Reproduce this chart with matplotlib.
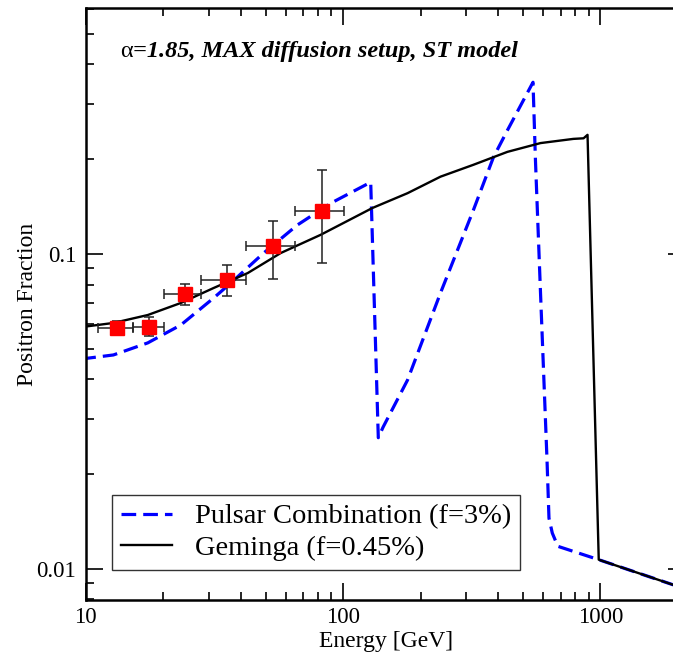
import matplotlib
matplotlib.use("Agg")
import matplotlib.pyplot as plt
from matplotlib.ticker import LogLocator, NullFormatter, FixedLocator, FixedFormatter

plt.rcParams['font.family'] = ['Liberation Serif', 'DejaVu Serif']

# Pulsar combination (blue dashed)
pulsar_E = [9.6, 12.8, 17.4, 23.4, 31.4, 36.6, 49.1, 66.4, 89.6, 128,
            137, 143, 178, 239, 321, 384, 435, 547,
            559, 585, 620, 631, 650, 683, 985, 1920]
pulsar_f = [0.0464, 0.0478, 0.0522, 0.0595, 0.0725, 0.0809, 0.1007, 0.1236, 0.145, 0.169,
            0.0261, 0.0282, 0.0398, 0.0752, 0.138, 0.203, 0.247, 0.351,
            0.199, 0.0752, 0.0222, 0.0145, 0.013, 0.0118, 0.0107, 0.0089]

# Geminga (black solid)
gem_E = [9.6, 12.8, 17.4, 23.4, 31.4, 42.6, 57.2, 81.7, 130, 178, 239, 321, 435,
         585, 785, 860, 891, 985, 1920]
gem_f = [0.0586, 0.0604, 0.064, 0.0699, 0.078, 0.087, 0.1007, 0.115, 0.140, 0.156,
         0.176, 0.192, 0.211, 0.225, 0.232, 0.233, 0.239, 0.0107, 0.0089]

# data points
data_E = [13.2, 17.6, 24.2, 35.3, 53.5, 82.6]
data_lo = [11.2, 15.2, 20.1, 28.1, 42.1, 64.9]
data_hi = [15.2, 20.1, 28.1, 42.1, 64.9, 100.7]
data_f = [0.0583, 0.0588, 0.0746, 0.0827, 0.106, 0.137]
data_flo = [0.0556, 0.0549, 0.0689, 0.0737, 0.0831, 0.0938]
data_fhi = [0.0614, 0.0633, 0.0803, 0.0923, 0.1275, 0.185]

fig = plt.figure(figsize=(6.73, 6.57), dpi=100)
ax = fig.add_axes([0.1275, 0.0868, 0.891, 0.901])

ax.plot(pulsar_E, pulsar_f, color='#0000ff', ls=(0, (4.6, 2.2)), lw=2.3,
        label='Pulsar Combination (f=3%)')
ax.plot(gem_E, gem_f, color='black', lw=1.7, label='Geminga (f=0.45%)')

xerr = [[e - l for e, l in zip(data_E, data_lo)], [h - e for e, h in zip(data_E, data_hi)]]
yerr = [[f - l for f, l in zip(data_f, data_flo)], [h - f for f, h in zip(data_f, data_fhi)]]
ax.errorbar(data_E, data_f, xerr=xerr, yerr=yerr, fmt='none', ecolor='#222222',
            elinewidth=1.1, capsize=3.5, capthick=1.1, zorder=3)
ax.plot(data_E, data_f, 's', color='red', markersize=9.5, zorder=4)

ax.set_xscale('log')
ax.set_yscale('log')
ax.set_xlim(10, 2140)
ax.set_ylim(0.00797, 0.604)

ax.xaxis.set_major_locator(FixedLocator([10, 100, 1000]))
ax.xaxis.set_major_formatter(FixedFormatter(['10', '100', '1000']))
ax.xaxis.set_minor_locator(LogLocator(base=10, subs=range(2, 10)))
ax.xaxis.set_minor_formatter(NullFormatter())
ax.yaxis.set_major_locator(FixedLocator([0.01, 0.1]))
ax.yaxis.set_major_formatter(FixedFormatter(['0.01', '0.1']))
ax.yaxis.set_minor_locator(LogLocator(base=10, subs=range(2, 10)))
ax.yaxis.set_minor_formatter(NullFormatter())

ax.tick_params(which='both', direction='in', top=True, right=True, labelsize=16.5, width=1.2)
ax.tick_params(which='major', length=12)
ax.tick_params(which='minor', length=6)
ax.tick_params(axis='x', which='major', pad=5)
ax.tick_params(axis='y', which='major', pad=7)
for s in ax.spines.values():
    s.set_linewidth(1.8)

ax.set_xlabel('Energy [GeV]', fontsize=17, labelpad=2)
ax.set_ylabel('Positron Fraction', fontsize=17, labelpad=-1)

alpha = ax.text(0.058, 0.927, 'α', transform=ax.transAxes, fontsize=17.5, va='center')
ax.annotate('=1.85, MAX diffusion setup, ST model', xy=(1, 0.5), xycoords=alpha,
            va='center', ha='left', fontsize=17.5, fontweight='bold', fontstyle='italic')

leg = ax.legend(loc='lower left', bbox_to_anchor=(0.044, 0.051), fontsize=20.5,
                frameon=True, fancybox=False, edgecolor='black', handlelength=1.8,
                borderpad=0.3, labelspacing=0.2, handletextpad=0.8, borderaxespad=0)
leg.get_frame().set_linewidth(1.0)

fig.savefig('out.png', dpi=100)
